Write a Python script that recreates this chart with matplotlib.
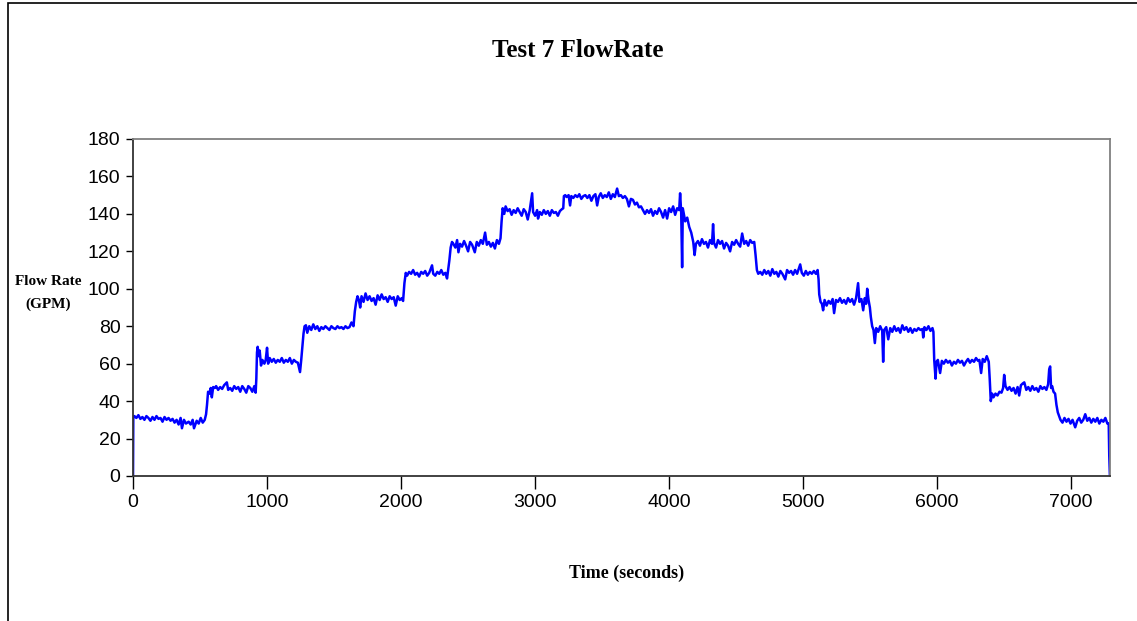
import matplotlib
matplotlib.use("Agg")
import matplotlib.pyplot as plt
from matplotlib import font_manager
from matplotlib.patches import Rectangle

# flow rate readings (seconds, GPM)
time_s = [
    0, 2, 10, 25, 40, 55, 70, 85, 100, 115, 130, 145, 160, 175, 190, 205, 220, 235, 250, 265,
    280, 295, 310, 325, 340, 355, 365, 380, 395, 415, 430, 445, 455, 475, 490, 505, 520, 535, 545, 552,
    560, 570, 580, 588, 598, 610, 620, 635, 650, 665, 680, 700, 710, 725, 740, 755, 770, 785, 800, 815,
    830, 845, 860, 875, 890, 905, 915, 920, 925, 930, 938, 945, 955, 965, 980, 990, 1000, 1008, 1020, 1035,
    1050, 1065, 1080, 1095, 1110, 1125, 1140, 1155, 1170, 1185, 1200, 1215, 1230, 1246, 1255, 1265, 1272, 1280, 1290, 1300,
    1315, 1330, 1345, 1360, 1375, 1390, 1405, 1420, 1435, 1450, 1465, 1480, 1495, 1510, 1525, 1540, 1555, 1570, 1585, 1600,
    1615, 1630, 1645, 1655, 1665, 1675, 1685, 1695, 1705, 1720, 1735, 1750, 1765, 1780, 1795, 1810, 1825, 1840, 1855, 1870,
    1885, 1900, 1915, 1930, 1945, 1960, 1975, 1990, 2005, 2015, 2025, 2035, 2045, 2060, 2075, 2090, 2105, 2120, 2135, 2150,
    2165, 2180, 2195, 2210, 2231, 2240, 2255, 2270, 2285, 2300, 2315, 2330, 2343, 2360, 2370, 2380, 2390, 2405, 2418, 2428,
    2440, 2455, 2470, 2485, 2500, 2515, 2530, 2550, 2565, 2580, 2595, 2610, 2627, 2640, 2655, 2670, 2685, 2700, 2715, 2730,
    2742, 2750, 2758, 2770, 2780, 2795, 2810, 2825, 2840, 2855, 2870, 2885, 2900, 2915, 2930, 2945, 2960, 2978, 2985, 3000,
    3015, 3022, 3035, 3050, 3065, 3080, 3095, 3110, 3125, 3140, 3155, 3170, 3185, 3200, 3210, 3215, 3225, 3235, 3250, 3261,
    3270, 3285, 3300, 3315, 3330, 3345, 3360, 3375, 3390, 3405, 3420, 3435, 3450, 3463, 3475, 3490, 3505, 3520, 3535, 3550,
    3565, 3580, 3595, 3612, 3625, 3640, 3655, 3670, 3685, 3700, 3715, 3730, 3745, 3760, 3775, 3790, 3805, 3820, 3835, 3850,
    3865, 3880, 3895, 3910, 3925, 3940, 3955, 3970, 3985, 4000, 4015, 4030, 4045, 4060, 4075, 4082, 4090, 4097, 4102, 4110,
    4120, 4135, 4150, 4165, 4180, 4190, 4200, 4215, 4230, 4245, 4260, 4275, 4290, 4305, 4320, 4328, 4335, 4350, 4365, 4380,
    4395, 4410, 4425, 4440, 4455, 4470, 4485, 4500, 4515, 4530, 4545, 4560, 4575, 4590, 4605, 4620, 4635, 4645, 4655, 4665,
    4680, 4695, 4710, 4725, 4740, 4755, 4770, 4785, 4800, 4815, 4830, 4845, 4866, 4880, 4895, 4910, 4925, 4940, 4955, 4978,
    4990, 5005, 5020, 5035, 5050, 5065, 5080, 5095, 5108, 5115, 5120, 5130, 5140, 5149, 5160, 5175, 5190, 5205, 5220, 5231,
    5245, 5260, 5275, 5290, 5305, 5320, 5335, 5350, 5365, 5380, 5395, 5410, 5420, 5435, 5448, 5460, 5470, 5478, 5488, 5498,
    5505, 5515, 5525, 5535, 5545, 5560, 5575, 5590, 5597, 5605, 5620, 5635, 5650, 5665, 5680, 5695, 5710, 5725, 5740, 5755,
    5770, 5785, 5800, 5815, 5830, 5845, 5860, 5875, 5890, 5896, 5905, 5920, 5935, 5950, 5965, 5972, 5978, 5988, 5995, 6005,
    6022, 6035, 6050, 6065, 6080, 6095, 6110, 6125, 6140, 6155, 6170, 6185, 6200, 6215, 6230, 6245, 6260, 6275, 6290, 6305,
    6315, 6328, 6340, 6355, 6370, 6385, 6392, 6400, 6410, 6420, 6435, 6450, 6465, 6480, 6492, 6500, 6510, 6525, 6540, 6555,
    6570, 6585, 6600, 6612, 6625, 6640, 6650, 6665, 6680, 6695, 6710, 6725, 6740, 6755, 6770, 6785, 6800, 6815, 6828, 6836,
    6843, 6850, 6858, 6868, 6880, 6890, 6900, 6910, 6920, 6935, 6950, 6965, 6980, 6995, 7010, 7030, 7045, 7060, 7075, 7090,
    7105, 7120, 7135, 7150, 7165, 7180, 7195, 7210, 7225, 7240, 7255, 7270, 7280, 7284, 7289,
]
flow_gpm = [
    0, 31, 32, 31, 32.5, 30.5, 31.5, 30, 32, 31, 29.5, 31.5, 30, 32, 30.5, 31, 29, 31.5, 30, 31,
    29.5, 30.5, 28.5, 30, 27.5, 31, 25.5, 30, 28, 29, 27.5, 30, 25.5, 29.5, 28, 31, 28.5, 30, 33, 38,
    45, 44, 47, 42, 47.5, 47, 48, 46, 47.5, 46.5, 48.5, 50, 46, 47, 45.5, 48, 46.5, 47.5, 45, 48,
    46.5, 44.5, 48, 47, 45, 48, 44.5, 52, 66, 69, 64, 67, 59, 62, 60, 62, 68.5, 60, 63, 61,
    62.5, 60.5, 62, 61, 63, 60.5, 62, 61, 63, 60, 62, 61, 60.5, 55.5, 62, 70, 76, 80, 80.5, 76.5,
    80, 78, 81, 78.5, 80, 77.5, 79.5, 78.5, 80, 79, 78, 80, 79, 78.5, 80, 79, 79.5, 78.5, 80, 79,
    79.5, 82, 80, 88, 93, 96, 94, 90, 96, 93, 97.5, 94, 96, 93.5, 95, 91.5, 96.5, 94, 97, 94.5,
    95.5, 93, 96, 94.5, 95.5, 91, 96, 94, 95, 93.5, 103, 108.5, 107, 109, 108, 110, 107.5, 108.5, 106.5, 109,
    108, 109.5, 107, 108.5, 112.5, 108, 107, 109, 108, 110, 107.5, 108.5, 105.5, 115, 122, 125, 124, 122, 126, 119.5,
    124, 122.5, 125.5, 123, 120, 125, 123.5, 119.5, 125, 123, 126, 124, 130, 123.5, 125, 122.5, 124.5, 121.5, 126, 124,
    127, 136, 143, 140, 144, 141.5, 142.5, 139.5, 142, 140.5, 143, 141, 139, 142.5, 141, 137, 142, 151, 141, 139,
    142, 137.5, 141, 139.5, 142, 140, 141.5, 139, 142, 140.5, 141, 139, 141.5, 142.5, 143, 149.5, 150, 149, 150, 144.5,
    149.5, 148.5, 150, 149, 150.5, 148, 149.5, 150, 148.5, 150, 147, 149.5, 150.5, 144.5, 149, 151, 148.5, 150, 149, 151.5,
    148, 150.5, 149, 153.5, 149.5, 150, 148.5, 149.5, 148, 144, 148, 147.5, 145, 146, 143.5, 144, 142, 140, 142, 140.5,
    142.5, 139, 141.5, 140, 143, 141, 138, 142, 137.5, 143, 141, 144, 139.5, 143, 142, 151, 141, 111.5, 143, 140,
    136, 138, 133, 130, 125, 118, 124, 125.5, 123, 126.5, 124, 125, 122, 126, 124, 134.5, 124.5, 122, 126, 124,
    125.5, 121.5, 124.5, 123, 120, 125, 123.5, 126, 124, 122.5, 129.5, 124, 125.5, 123, 126, 124.5, 125, 118, 110, 108,
    109, 107.5, 110, 108, 109.5, 107, 110.5, 108, 109, 106.5, 109.5, 108, 105, 110, 108.5, 109.5, 107.5, 110, 108, 113,
    108.5, 107, 109.5, 107.5, 109, 108, 109.5, 108, 110, 105, 97, 93, 92, 88.5, 94, 91, 93.5, 92, 94.5, 87,
    94, 93, 95, 92.5, 94, 92, 95, 93, 94.5, 91.5, 95, 103, 93, 94.5, 88.5, 95, 92, 100, 94, 90,
    85, 80, 78, 71, 79, 77, 80, 77.5, 61, 78, 79.5, 73, 79, 77, 80, 77.5, 79, 76.5, 80.5, 78,
    79.5, 77, 79, 76.5, 78.5, 77.5, 79, 78, 78.5, 74, 79.5, 78, 80, 77.5, 79, 77, 62, 52, 61, 62,
    55, 61.5, 60, 62, 60.5, 61.5, 59, 61, 60, 62, 60.5, 61.5, 59, 61, 62.5, 60.5, 62, 61, 63, 61.5,
    62, 55, 62.5, 61, 64, 61, 52, 40, 44, 42, 44, 43, 45, 44.5, 47, 54, 48, 46, 47.5, 45.5,
    47, 44, 47.5, 43, 48.5, 49.5, 50, 46, 47.5, 45.5, 48, 46, 47, 45, 48, 46.5, 47.5, 46, 49, 57,
    58.5, 47, 48, 45, 44, 38, 34, 32, 30, 28.5, 31, 29, 30.5, 28, 30, 26, 29.5, 31, 28.5, 30,
    33, 29.5, 31, 28.5, 30.5, 29, 31, 28, 30, 29, 31, 28, 28, 11, 0,
]

x_ticks = [0, 1000, 2000, 3000, 4000, 5000, 6000, 7000]
y_ticks = [0, 20, 40, 60, 80, 100, 120, 140, 160, 180]

installed = {f.name for f in font_manager.fontManager.ttflist}
tick_font = 'Liberation Sans Narrow' if 'Liberation Sans Narrow' in installed else 'Liberation Sans'
label_font = 'Liberation Serif'

fig = plt.figure(figsize=(11.37, 6.21), dpi=100)

# outer chart border
fig.patches.append(Rectangle((8 / 1137, -0.02), 1.2, 1.015, transform=fig.transFigure,
                             fill=False, edgecolor='black', linewidth=1.2))

ax = fig.add_axes([0.117, 0.2335, 0.8593, 0.5427])
ax.plot(time_s, flow_gpm, color='#0000FF', linewidth=1.8)

ax.set_xlim(0, 7290)
ax.set_ylim(0, 180)
ax.set_xticks(x_ticks)
ax.set_yticks(y_ticks)
ax.set_xticklabels([str(t) for t in x_ticks], fontfamily=tick_font, fontsize=14)
ax.set_yticklabels([str(t) for t in y_ticks], fontfamily=tick_font, fontsize=14)
ax.tick_params(axis='x', direction='out', length=9, width=1, pad=4)
ax.tick_params(axis='y', direction='out', length=5, width=1, pad=4)

for side in ['left', 'bottom']:
    ax.spines[side].set_color('#333333')
    ax.spines[side].set_linewidth(1.3)
for side in ['top', 'right']:
    ax.spines[side].set_color('#808080')
    ax.spines[side].set_linewidth(1.3)

fig.text(0.508, 0.919, 'Test 7 FlowRate', ha='center', va='center',
         fontfamily=label_font, fontweight='bold', fontsize=18)
fig.text(0.042, 0.528, 'Flow Rate\n(GPM)', ha='center', va='center',
         fontfamily=label_font, fontweight='bold', fontsize=11, linespacing=1.9)
fig.text(0.551, 0.077, 'Time (seconds)', ha='center', va='center',
         fontfamily=label_font, fontweight='bold', fontsize=13)

plt.savefig('out.png', dpi=100)
